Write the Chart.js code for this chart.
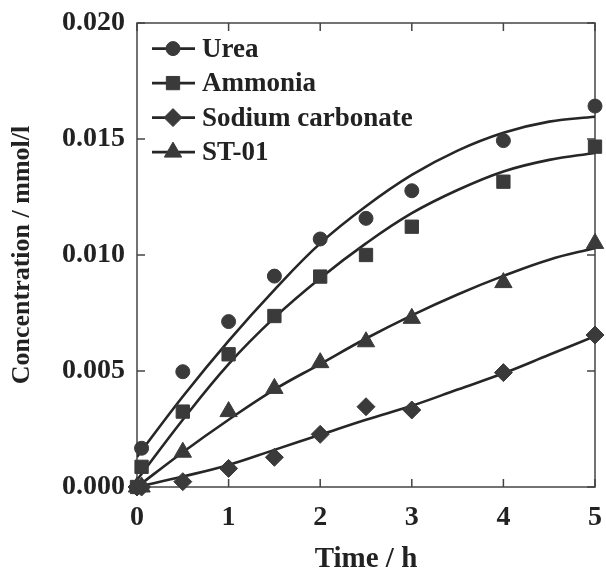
<!DOCTYPE html>
<html>
<head>
<meta charset="utf-8">
<script src="https://cdn.jsdelivr.net/npm/chart.js@4/dist/chart.umd.min.js"></script>
<style>
  html, body { margin: 0; padding: 0; background: #fff; }
  #wrap { width: 606px; height: 573px; position: relative; }
</style>
</head>
<body>
<div id="wrap"><canvas id="c" width="606" height="573"></canvas></div>
<script>
// ---- data ----
const seriesNames = ["Urea", "Ammonia", "Sodium carbonate", "ST-01"];
const sampleTimes = [0, 0.05, 0.5, 1, 1.5, 2, 2.5, 3, 4, 5];
const ureaValues     = [0, 0.00167, 0.00497, 0.00713, 0.00909, 0.01069, 0.01158, 0.01277, 0.01493, 0.01642];
const ammoniaValues  = [0, 0.00087, 0.00325, 0.00572, 0.00737, 0.00907, 0.01000, 0.01122, 0.01316, 0.01467];
const sodiumValues   = [0, 0, 0.00023, 0.00080, 0.00128, 0.00227, 0.00346, 0.00332, 0.00493, 0.00655];
const st01Values     = [0, 0, 0.00150, 0.00325, 0.00425, 0.00536, 0.00626, 0.00727, 0.00881, 0.01050];

// fitted curves
const fitTimes = [0, 0.5, 1, 1.5, 2, 2.5, 3, 3.5, 4, 4.5, 5];
const ureaFit    = [0.0013, 0.0039, 0.0063, 0.0085, 0.0105, 0.0121, 0.01345, 0.0145, 0.01527, 0.01575, 0.01596];
const ammoniaFit = [0.0003, 0.0029, 0.0053, 0.0073, 0.0090, 0.0105, 0.0118, 0.0128, 0.0136, 0.0141, 0.0144];
const sodiumFit  = [0, 0.00045, 0.00095, 0.0016, 0.00225, 0.0029, 0.0035, 0.0042, 0.0049, 0.0057, 0.0065];
const st01Fit    = [0, 0.0015, 0.0029, 0.0042, 0.0053, 0.0064, 0.0074, 0.0083, 0.0091, 0.0098, 0.0103];

const xTickValues = [0, 1, 2, 3, 4, 5];
const yTickValues = [0, 0.005, 0.010, 0.015, 0.020];
const xTitle = "Time / h";
const yTitle = "Concentration / mmol/l";

// ---- styling ----
const FONT = '"Liberation Serif", "Times New Roman", serif';
const MARK = '#3a3a3a';
const LINE = '#262626';
const styles = [
  { pointStyle: 'circle',   radius: 7 },
  { pointStyle: 'rect',     radius: 9.4 },
  { pointStyle: 'rectRot',  radius: 9 },
  { pointStyle: 'triangle', radius: 10 }
];
const markerSets = [ureaValues, ammoniaValues, sodiumValues, st01Values];
const fitSets = [ureaFit, ammoniaFit, sodiumFit, st01Fit];

const datasets = [];
markerSets.forEach((vals, i) => {
  datasets.push({
    label: seriesNames[i],
    data: sampleTimes.map((t, k) => ({ x: t, y: vals[k] })),
    showLine: false,
    pointStyle: styles[i].pointStyle,
    pointRadius: styles[i].radius,
    pointBackgroundColor: MARK,
    pointBorderColor: MARK,
    pointBorderWidth: 1,
    clip: false,
    order: 0
  });
});
fitSets.forEach((vals, i) => {
  datasets.push({
    label: seriesNames[i] + ' fit',
    data: fitTimes.map((t, k) => ({ x: t, y: vals[k] })),
    showLine: true,
    pointRadius: 0,
    borderColor: LINE,
    borderWidth: 2.6,
    tension: 0.4,
    fill: false,
    order: 1
  });
});

function drawMarker(ctx, style, radius, x, y) {
  ctx.save();
  ctx.fillStyle = MARK;
  ctx.strokeStyle = MARK;
  ctx.lineWidth = 1;
  if (Chart.helpers && Chart.helpers.drawPoint) {
    Chart.helpers.drawPoint(ctx, { pointStyle: style, radius: radius, rotation: 0, borderWidth: 1 }, x, y);
  } else {
    ctx.beginPath();
    ctx.arc(x, y, radius, 0, Math.PI * 2);
    ctx.fill();
  }
  ctx.restore();
}

function noPad(s) { s.paddingLeft = 0; s.paddingRight = 0; s.paddingTop = 0; s.paddingBottom = 0; }

const framePlugin = {
  id: 'frame',
  beforeDatasetsDraw(chart) {
    const { ctx, chartArea: a, scales } = chart;
    ctx.save();
    ctx.strokeStyle = '#444';
    ctx.lineWidth = 1.5;
    ctx.strokeRect(a.left, a.top, a.right - a.left, a.bottom - a.top);
    const L = 8;
    ctx.beginPath();
    xTickValues.forEach(v => {
      const px = scales.x.getPixelForValue(v);
      ctx.moveTo(px, a.bottom); ctx.lineTo(px, a.bottom - L);
      ctx.moveTo(px, a.top); ctx.lineTo(px, a.top + L);
    });
    yTickValues.forEach(v => {
      const py = scales.y.getPixelForValue(v);
      ctx.moveTo(a.left, py); ctx.lineTo(a.left + L, py);
      ctx.moveTo(a.right, py); ctx.lineTo(a.right - L, py);
    });
    ctx.stroke();
    ctx.restore();
  },
  afterDraw(chart) {
    const { ctx, chartArea: a } = chart;
    ctx.save();
    ctx.font = 'bold 27px ' + FONT;
    ctx.textBaseline = 'middle';
    ctx.textAlign = 'left';
    seriesNames.forEach((name, i) => {
      const y = a.top + 25.6 + i * 34.5;
      const x0 = a.left + 15, x1 = a.left + 58, xm = a.left + 36;
      ctx.strokeStyle = LINE;
      ctx.lineWidth = 2.6;
      ctx.beginPath();
      ctx.moveTo(x0, y); ctx.lineTo(x1, y);
      ctx.stroke();
      drawMarker(ctx, styles[i].pointStyle, styles[i].radius, xm, y);
      ctx.fillStyle = '#222';
      ctx.fillText(name, a.left + 65, y + 1);
    });
    ctx.restore();
  }
};

new Chart(document.getElementById('c'), {
  type: 'scatter',
  data: { datasets },
  options: {
    responsive: false,
    animation: false,
    layout: { padding: { top: 23, right: 7, left: 0, bottom: 0 } },
    plugins: { legend: { display: false }, tooltip: { enabled: false } },
    scales: {
      x: {
        type: 'linear', min: 0, max: 5,
        afterBuildTicks: s => { s.ticks = xTickValues.map(v => ({ value: v })); },
        afterFit: s => { s.height = 86; noPad(s); },
        grid: { display: false, drawTicks: false },
        border: { display: false },
        ticks: { color: '#222', font: { family: FONT, size: 28, weight: 'bold' }, padding: 14,
                 callback: v => String(v) },
        title: { display: true, text: xTitle, color: '#222',
                 font: { family: FONT, size: 29, weight: 'bold', lineHeight: 0.9 }, padding: { top: 0, bottom: 0 } }
      },
      y: {
        type: 'linear', min: 0, max: 0.02,
        afterBuildTicks: s => { s.ticks = yTickValues.map(v => ({ value: v })); },
        afterFit: s => { s.width = 137; noPad(s); },
        grid: { display: false, drawTicks: false },
        border: { display: false },
        ticks: { color: '#222', font: { family: FONT, size: 28, weight: 'bold' }, padding: 12,
                 callback: v => Number(v).toFixed(3) },
        title: { display: true, text: yTitle, color: '#222',
                 font: { family: FONT, size: 26, weight: 'bold' }, padding: { top: 7, bottom: 0 } }
      }
    }
  },
  plugins: [framePlugin]
});
</script>
</body>
</html>
